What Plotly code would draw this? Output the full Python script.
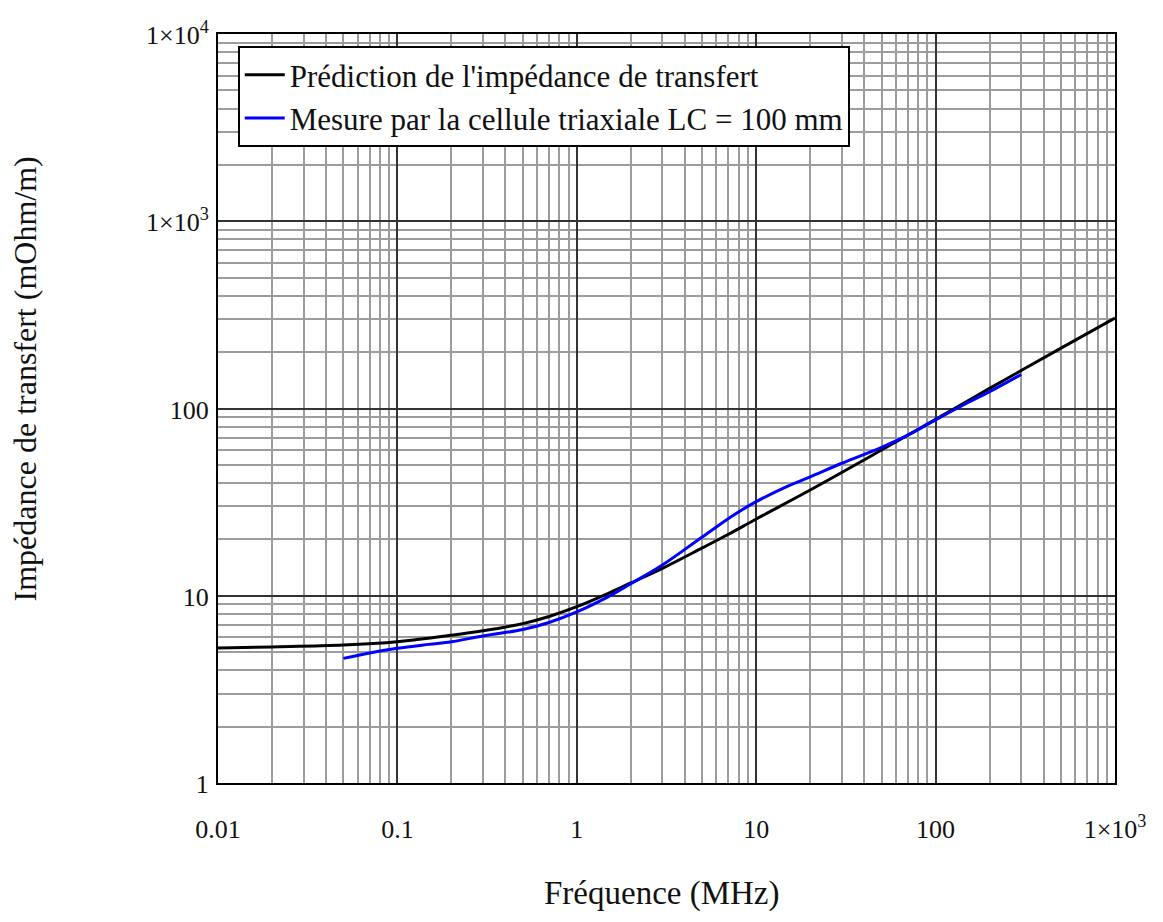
import plotly.graph_objects as go

# Prediction of transfer impedance (black)
freq_pred = [0.01, 0.02, 0.05, 0.1, 0.2, 0.3, 0.5, 0.7, 1, 1.5, 2, 3, 5, 7, 10, 20, 50, 100, 200, 500, 1000]
z_pred = [5.26, 5.33, 5.45, 5.68, 6.15, 6.5, 7.1, 7.75, 8.74, 10.3, 11.7, 14.0, 18.0, 21.3, 25.7, 36.7, 60.0, 87.5, 128, 210, 304]

# Measurement by triaxial cell (blue)
freq_meas = [0.05, 0.07, 0.1, 0.15, 0.2, 0.3, 0.5, 0.7, 1, 1.5, 2, 3, 5, 7.5, 10, 15, 20, 30, 50, 70, 100, 150, 200, 300]
z_meas = [4.63, 4.95, 5.24, 5.5, 5.68, 6.1, 6.6, 7.2, 8.2, 9.9, 11.6, 14.6, 20.6, 27.0, 31.8, 38.5, 43.2, 51.0, 62.0, 72.0, 87.0, 107, 123, 152]

x_tickvals = [0.01, 0.1, 1, 10, 100, 1000]
x_ticktext = ["0.01", "0.1", "1", "10", "100", "1×10<sup>3</sup>"]
y_tickvals = [1, 10, 100, 1000, 10000]
y_ticktext = ["1", "10", "100", "1×10<sup>3</sup>", "1×10<sup>4</sup>"]

x_minor = [m * 10 ** e for e in range(-2, 3) for m in range(2, 10)]
y_minor = [m * 10 ** e for e in range(0, 4) for m in range(2, 10)]

FONT = "Liberation Serif, Times New Roman, serif"

fig = go.Figure()
fig.add_trace(go.Scatter(x=freq_pred, y=z_pred, mode="lines", line=dict(color="black", width=3, shape="spline"),
                         name="Prédiction de l'impédance de transfert"))
fig.add_trace(go.Scatter(x=freq_meas, y=z_meas, mode="lines", line=dict(color="#0000ff", width=3, shape="spline"),
                         name="Mesure par la cellule triaxiale LC = 100 mm"))

axis_common = dict(
    type="log", showline=True, linecolor="black", linewidth=2, mirror=True,
    showgrid=True, gridcolor="#333333", gridwidth=1.8, ticks="",
    tickfont=dict(family=FONT, size=26, color="#111"),
    tickmode="array", automargin=False,
)

fig.update_xaxes(**axis_common, range=[-2, 3], tickvals=x_tickvals, ticktext=x_ticktext,
                 ticklabelstandoff=22,
                 minor=dict(tickmode="array", tickvals=x_minor, showgrid=True, gridcolor="#9c9c9c", gridwidth=1.6, ticks=""))
fig.update_yaxes(**axis_common, range=[0, 4], tickvals=y_tickvals, ticktext=y_ticktext,
                 ticklabelshift=1, ticklabelstandoff=2,
                 minor=dict(tickmode="array", tickvals=y_minor, showgrid=True, gridcolor="#9c9c9c", gridwidth=1.6, ticks=""))

fig.add_annotation(text="Impédance de transfert (mOhm/m)", textangle=-90, xref="paper", yref="paper",
                   x=-0.215, y=0.539, xanchor="center", yanchor="middle", showarrow=False,
                   font=dict(family=FONT, size=32, color="#111"))
fig.add_annotation(text="Fréquence (MHz)", xref="paper", yref="paper",
                   x=0.494, y=-0.147, xanchor="center", yanchor="middle", showarrow=False,
                   font=dict(family=FONT, size=33, color="#111"))

fig.update_layout(
    width=1147, height=906,
    margin=dict(l=210, r=40, t=26, b=131),
    paper_bgcolor="white", plot_bgcolor="white",
    font=dict(family=FONT, color="#111"),
    showlegend=True,
    legend=dict(x=0.022, y=0.984, xanchor="left", yanchor="top", bgcolor="white",
                bordercolor="black", borderwidth=2, font=dict(family=FONT, size=31, color="#111"),
                itemwidth=40, tracegroupgap=0),
)

fig.write_html("out.html")
